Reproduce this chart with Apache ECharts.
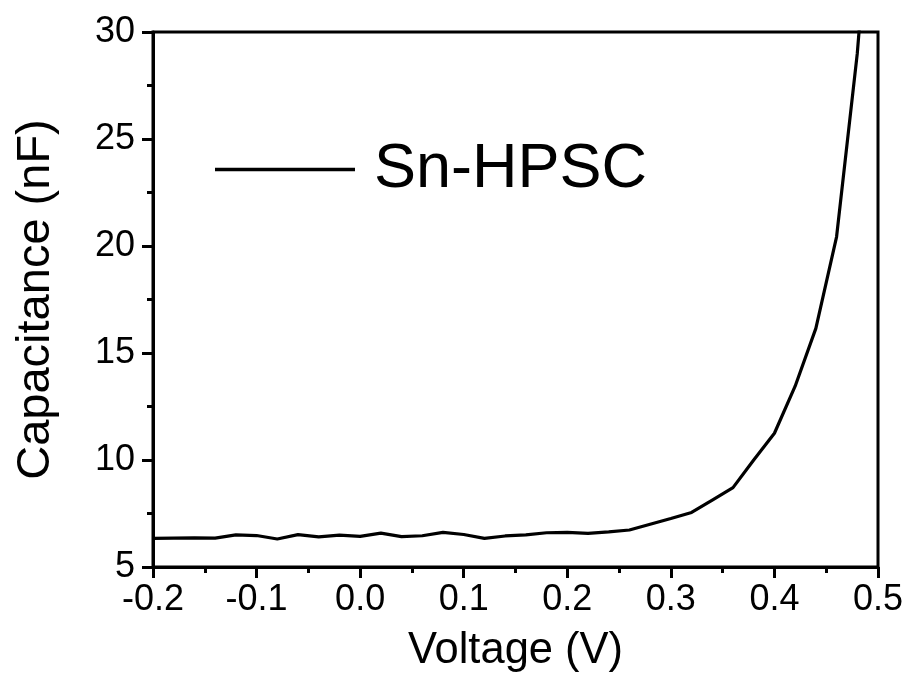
<!DOCTYPE html>
<html>
<head>
<meta charset="utf-8">
<script src="https://cdn.jsdelivr.net/npm/echarts@6/dist/echarts.min.js"></script>
<style>
  html, body { margin: 0; padding: 0; background: #fff; }
  #chart { width: 908px; height: 686px; }
</style>
</head>
<body>
<div id="chart"></div>
<script>
// C–V sweep of the Sn-HPSC device
const voltage = [
  -0.20, -0.18, -0.16, -0.14, -0.12, -0.10, -0.08, -0.06, -0.04, -0.02,
   0.00,  0.02,  0.04,  0.06,  0.08,  0.10,  0.12,  0.14,  0.16,  0.18,
   0.20,  0.22,  0.24,  0.26,  0.28,  0.30,  0.32,  0.34,  0.36,  0.38,
   0.40,  0.42,  0.44,  0.46,  0.48,  0.50
];
const capacitance = [
  6.34, 6.35, 6.36, 6.35, 6.50, 6.47, 6.31, 6.51, 6.41, 6.49,
  6.43, 6.58, 6.42, 6.46, 6.62, 6.52, 6.34, 6.45, 6.50, 6.60,
  6.62, 6.57, 6.64, 6.73, 7.00, 7.27, 7.55, 8.13, 8.71, 10.00,
  11.25, 13.45, 16.15, 20.43, 29.0, 41.0
];
const seriesName = 'Sn-HPSC';
const xTitle = 'Voltage (V)';
const yTitle = 'Capacitance (nF)';

const FONT = '"Liberation Sans", Arial, Helvetica, sans-serif';

const chart = echarts.init(document.getElementById('chart'), null, { renderer: 'canvas' });

chart.setOption({
  animation: false,
  backgroundColor: '#ffffff',
  grid: {
    left: 153, right: 30, top: 32, bottom: 119,
    show: true, borderColor: '#000', borderWidth: 3, backgroundColor: 'transparent'
  },
  legend: {
    left: 210, top: 133,
    itemWidth: 140, itemHeight: 3.5, itemGap: 0,
    icon: 'rect',
    data: [{ name: seriesName, itemStyle: { color: '#000' } }],
    textStyle: { fontFamily: FONT, fontSize: 63, color: '#000', padding: [0, 0, 0, 14] }
  },
  xAxis: {
    type: 'value', min: -0.2, max: 0.5, interval: 0.1,
    name: xTitle, nameLocation: 'middle', nameGap: 62,
    nameTextStyle: { fontFamily: FONT, fontSize: 43.5, color: '#000' },
    axisLine: { onZero: false, lineStyle: { color: '#000', width: 3 } },
    axisTick: { show: true, inside: false, length: 11, lineStyle: { color: '#000', width: 3 } },
    minorTick: { show: true, splitNumber: 2, length: 6, lineStyle: { color: '#000', width: 3 } },
    splitLine: { show: false },
    axisLabel: {
      margin: 15, fontFamily: FONT, fontSize: 36, color: '#000',
      formatter: v => v.toFixed(1)
    }
  },
  yAxis: {
    type: 'value', min: 5, max: 30, interval: 5,
    name: yTitle, nameLocation: 'middle', nameGap: 93,
    nameTextStyle: { fontFamily: FONT, fontSize: 47, color: '#000' },
    axisLine: { onZero: false, lineStyle: { color: '#000', width: 3 } },
    axisTick: { show: true, inside: false, length: 11, lineStyle: { color: '#000', width: 3 } },
    minorTick: { show: true, splitNumber: 2, length: 6, lineStyle: { color: '#000', width: 3 } },
    splitLine: { show: false },
    axisLabel: { margin: 18, fontFamily: FONT, fontSize: 36, color: '#000' }
  },
  series: [{
    name: seriesName,
    type: 'line',
    data: voltage.map((v, i) => [v, capacitance[i]]),
    showSymbol: false,
    symbol: 'none',
    clip: true,
    lineStyle: { color: '#000', width: 3.2 },
    itemStyle: { color: '#000' }
  }]
});
</script>
</body>
</html>
